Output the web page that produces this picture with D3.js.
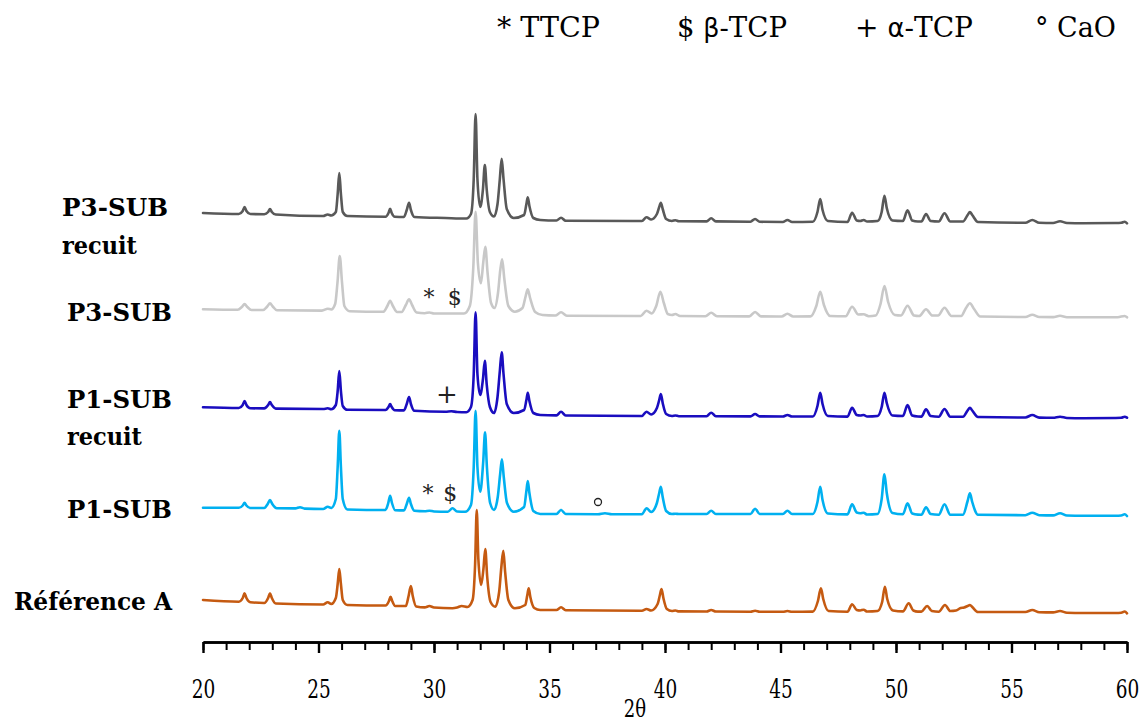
<!DOCTYPE html>
<html><head><meta charset="utf-8">
<script src="https://cdn.jsdelivr.net/npm/d3@7"></script>
<style>body{margin:0;background:#fff}svg{display:block}</style>
</head><body><svg id="c" width="1142" height="724"></svg>
<script>
// ---- data (2θ, intensity a.u.) ----
const seriesNames = ["Référence A", "P1-SUB", "P1-SUB recuit", "P3-SUB", "P3-SUB recuit"];
const seriesOffsets = [28, 125, 223, 324, 418];
const seriesColors = ["#c55a11", "#00b0f0", "#1a0dbf", "#c8c8c8", "#595959"];

const refA = [[20,14],[21.55,12.3],[21.72,16],[21.8,20.7],[21.88,16],[22.05,11.8],
[22.65,11],[22.82,16],[22.9,20.7],[22.98,16],[23.15,10.5],
[25.2,9.5],[25.4,11.7],[25.55,10],[25.75,16],[25.83,30],[25.9,45],[25.97,30],[26.05,14],[26.25,9],
[27.9,8.5],[28.05,13],[28.12,17.3],[28.19,13],[28.32,8],
[28.78,8],[28.9,18],[29.0,28],[29.08,18],[29.23,7.5],
[29.6,6.6],[29.8,8],[30.0,6.5],[30.8,5.8],[31.0,6.5],[31.2,8],[31.45,7],[31.67,14],[31.78,50],[31.85,104],[31.92,55],[32.04,29],[32.14,45],[32.22,65],[32.3,38],[32.45,12],[32.65,7.3],[32.82,22],[32.92,48],[33.0,63.3],[33.08,42],[33.22,14],[33.5,5.7],[33.95,9],[34.04,19],[34.1,25.7],[34.17,17],[34.34,6],[34.6,4],
[35.3,4],[35.5,6.7],[35.7,3.8],
[39.0,3.3],[39.2,5],[39.4,3.5],[39.68,10],[39.78,19],[39.85,25],[39.93,16],[40.08,5],[40.3,3],[40.45,3.5],[40.6,2.6],
[41.8,2.5],[42.0,4],[42.2,2.5],
[43.7,2.3],[43.9,3.3],[44.1,2.3],
[45.1,2.2],[45.3,3],[45.5,2.2],
[46.4,2.4],[46.62,13],[46.75,25.7],[46.85,15],[47.08,3],
[47.9,2.3],[48.1,9.7],[48.3,4],[48.45,3.5],[48.6,4.3],[48.75,2.5],
[49.2,3],[49.4,12],[49.52,27.3],[49.62,15],[49.87,3.5],
[50.3,2.6],[50.55,10.7],[50.75,3.5],[50.95,2.4],
[51.1,2.4],[51.35,8],[51.55,3],[51.85,2.3],[52.12,9],[52.35,3],
[52.6,3.5],[52.8,6],[52.95,6.5],[53.1,8],[53.2,9],[53.3,7],[53.55,2],
[55.6,2],[55.9,4],[56.2,1.8],
[56.8,1.6],[57.1,3],[57.4,1.3],
[58.1,1],[59.5,1],[59.75,1.2],[59.9,2.5],[60,0.7]];

const p1Sub = [[20,9.3],[21.55,9.2],[21.72,11.5],[21.8,14.3],[21.88,11.5],[22.05,9],
[22.65,9],[22.8,13],[22.9,17],[23.0,13],[23.2,8.7],
[24.0,8.6],[24.2,9.8],[24.4,8.4],
[25.2,8],[25.4,10.3],[25.55,9],[25.75,18],[25.83,50],[25.9,86.3],[25.97,50],[26.05,18],[26.25,7.5],
[27.9,7],[28.02,14],[28.1,21.3],[28.18,14],[28.32,6.8],
[28.7,6.6],[28.82,13],[28.92,19.3],[29.0,13],[29.15,6.2],
[29.6,5.7],[29.8,6.3],[30.0,5.5],[30.6,5.3],[30.8,8.7],[31.0,5.5],[31.35,5.2],[31.6,12],[31.72,50],[31.8,106.3],[31.88,50],[32.0,25.3],[32.13,55],[32.21,84.7],[32.29,50],[32.43,14],[32.6,7],[32.76,20],[32.86,42],[32.94,57.7],[33.02,40],[33.16,14],[33.45,5.3],[33.9,10],[34.0,26],[34.06,36],[34.13,24],[34.3,6],[34.6,3],
[35.3,3],[35.5,7],[35.7,3],
[37.1,2.7],[37.4,3.7],[37.7,2.7],
[39.0,2.8],[39.2,8.7],[39.4,5],[39.65,14],[39.75,24],[39.82,30.3],[39.9,20],[40.05,6],[40.3,3],[40.45,3.3],[40.6,3],
[41.8,3],[42.0,6.3],[42.2,3],
[43.7,3],[43.9,8.3],[44.1,3],
[45.1,3],[45.3,6.3],[45.5,3],
[46.4,3],[46.6,15],[46.72,30.3],[46.82,17],[47.05,3.5],
[47.9,2.6],[48.1,12.7],[48.3,4.5],[48.45,3.8],[48.6,4.3],[48.75,2.5],
[49.2,3],[49.38,18],[49.5,42.7],[49.6,24],[49.85,4],
[50.3,2.8],[50.5,13.7],[50.7,3.5],[50.95,2.4],
[51.1,2.3],[51.3,9.7],[51.5,3],[51.85,2.3],[52.1,12.7],[52.35,2.3],
[52.9,2.3],[53.1,16],[53.2,23.7],[53.3,15],[53.55,2.2],
[55.6,1.8],[55.9,4.3],[56.2,1.8],
[56.8,1.6],[57.1,3.7],[57.4,1.5],
[58.1,1.3],[59.5,1.3],[59.75,1.5],[59.9,2.7],[60,1]];

const p1Recuit = [[20,11.7],[21.55,11],[21.72,14],[21.8,18],[21.88,14],[22.05,10.8],
[22.65,10.6],[22.82,14],[22.9,17],[22.98,14],[23.15,10.4],
[25.2,10],[25.4,10.7],[25.55,9.8],[25.75,14],[25.83,28],[25.9,48],[25.97,28],[26.05,13],[26.25,9.2],
[27.9,9],[28.03,12],[28.1,15],[28.17,12],[28.3,8.8],
[28.7,8.6],[28.82,15],[28.92,22],[29.0,15],[29.15,8.2],
[30.5,7.3],[30.75,7.8],[31.0,7],[31.4,6.8],[31.6,12],[31.72,45],[31.8,106.7],[31.88,45],[32.0,24],[32.12,40],[32.2,58.3],[32.28,35],[32.42,12],[32.6,6],[32.75,22],[32.85,48],[32.93,66.7],[33.01,45],[33.15,15],[33.45,6],[33.9,9],[34.0,19],[34.06,26.3],[34.13,18],[34.3,6],[34.6,4],
[35.3,3.6],[35.5,7.3],[35.7,3.5],
[39.0,3],[39.2,7.3],[39.4,4.5],[39.65,11],[39.75,19],[39.82,25],[39.9,16],[40.05,5],[40.3,3],[40.45,3.5],[40.6,2.8],
[41.8,2.8],[42.0,6.3],[42.2,2.8],
[43.7,2.6],[43.9,5],[44.1,2.6],
[45.1,2.5],[45.3,4],[45.5,2.5],
[46.4,2.5],[46.6,13],[46.72,26.3],[46.82,15],[47.05,3],
[47.9,2.4],[48.1,11.3],[48.3,4],[48.45,3.5],[48.6,4],[48.75,2.5],
[49.2,3],[49.38,12],[49.5,26.3],[49.6,16],[49.85,3.5],
[50.3,3],[50.5,14],[50.7,3.5],[50.95,2.5],
[51.1,2.4],[51.3,9.7],[51.5,3],[51.85,2.3],[52.1,10],[52.35,2.3],
[52.9,2.2],[53.1,8.5],[53.2,11.3],[53.3,8.5],[53.55,2],
[55.6,1.5],[55.9,4],[56.2,1.4],
[56.8,1.2],[57.1,2.3],[57.4,1],
[58.1,0.7],[59.5,1],[59.75,1.2],[59.9,2.3],[60,1.3]];

const p3Sub = [[20,8.7],[21.5,8.2],[21.68,11],[21.8,14],[21.92,11],[22.1,8],
[22.6,8],[22.78,11.5],[22.9,14.7],[23.02,11.5],[23.2,7.8],
[25.15,7.4],[25.4,9.3],[25.55,8.5],[25.72,14],[25.82,35],[25.92,62],[26.02,35],[26.12,12],[26.35,6.8],
[27.8,6.2],[27.98,12],[28.1,17.3],[28.22,12],[28.4,6],
[28.6,6],[28.78,13],[28.92,18.7],[29.05,13],[29.25,5.5],
[29.6,4.8],[29.8,5.5],[30.0,4.5],[31.3,4.5],[31.55,12],[31.7,50],[31.8,106.3],[31.9,55],[32.03,34.7],[32.13,55],[32.22,71.3],[32.32,45],[32.47,15],[32.62,10],[32.77,25],[32.87,48],[32.95,58.7],[33.04,40],[33.22,12],[33.5,6.3],[33.83,10],[33.97,22],[34.06,28.7],[34.16,20],[34.38,6],[34.7,3],
[35.25,2.5],[35.5,5.7],[35.75,2.3],
[38.95,2],[39.2,7.3],[39.42,4.5],[39.62,12],[39.8,26.3],[39.95,15],[40.12,4],[40.3,3],[40.45,4],[40.65,2],
[41.75,1.8],[42.0,5.3],[42.25,1.8],
[43.65,1.6],[43.9,6],[44.15,1.6],
[45.05,1.5],[45.3,4.3],[45.55,1.5],
[46.3,1.6],[46.55,12],[46.72,26.3],[46.88,13],[47.15,2],
[47.82,1.8],[48.1,11.3],[48.37,3.5],[48.6,3.7],[48.82,1.8],
[49.12,2.5],[49.33,14],[49.5,32],[49.66,16],[49.95,3],
[50.22,2.5],[50.5,12.3],[50.78,2.5],[51.0,2],
[51.3,8.7],[51.58,2.5],[51.82,2.5],[52.1,10.3],[52.4,2],
[52.82,2],[53.03,10],[53.2,14.7],[53.38,9],[53.65,1.5],
[55.6,1],[55.9,3.3],[56.2,1],
[56.8,0.9],[57.1,2.3],[57.4,0.8],
[58.1,0.7],[59.6,0.8],[59.9,2],[60,0.7]];

const p3Recuit = [[20,11],[21.55,10],[21.72,13],[21.8,17],[21.88,13],[22.05,10],
[22.65,9.8],[22.82,12],[22.9,15],[22.98,12],[23.15,9.5],
[25.2,8],[25.4,9.5],[25.55,8.5],[25.75,12],[25.83,30],[25.9,51],[25.97,30],[26.05,12],[26.25,8],
[27.9,7.3],[28.03,11],[28.1,15.3],[28.17,11],[28.3,7.2],
[28.7,7],[28.82,14],[28.92,21.3],[29.0,14],[29.15,7],
[30.5,6],[31.4,5.5],[31.6,10],[31.72,45],[31.8,110],[31.88,45],[32.0,17],[32.12,35],[32.2,59],[32.28,35],[32.42,12],[32.6,7.5],[32.75,20],[32.85,45],[32.93,65.3],[33.01,45],[33.15,15],[33.45,6],[33.9,9],[34.0,20],[34.06,26.7],[34.13,18],[34.3,6],[34.6,4],
[35.3,3.5],[35.5,6.3],[35.7,3.2],
[39.0,3],[39.2,6.7],[39.4,4.5],[39.65,10],[39.75,17],[39.82,21.3],[39.9,15],[40.05,5],[40.3,3],[40.45,3.8],[40.6,2.8],
[41.8,2.6],[42.0,5.7],[42.2,2.6],
[43.7,2.3],[43.9,5],[44.1,2.2],
[45.1,2],[45.3,4],[45.5,2],
[46.4,2.2],[46.6,12],[46.72,25],[46.82,14],[47.05,3],
[47.9,2],[48.1,11.3],[48.3,3.5],[48.45,3],[48.6,4],[48.75,2.5],
[49.2,3],[49.38,12],[49.5,28.3],[49.6,16],[49.85,3.5],
[50.3,3],[50.5,13.7],[50.7,3.5],[50.95,2.5],
[51.1,2.5],[51.3,10],[51.5,3],[51.85,2.5],[52.1,10.7],[52.35,2.5],
[52.9,2.5],[53.1,9],[53.2,12],[53.3,9],[53.55,2],
[55.6,1.2],[55.9,4],[56.2,1.2],
[56.8,1],[57.1,2.7],[57.4,1],
[58.1,0.8],[59.5,1],[59.75,1.2],[59.9,2.3],[60,0.7]];

const seriesData = [refA, p1Sub, p1Recuit, p3Sub, p3Recuit];

const xMajorTicks = [20, 25, 30, 35, 40, 45, 50, 55, 60];
const xMinorTicks = d3.range(20, 61, 1);
const xLabel = "2θ";

const legendSymbols = ["*", "$", "+", "°"];
const legendGreek = ["", "β", "α", ""];
const legendNames = ["TTCP", "-TCP", "-TCP", "CaO"];

// annotations: [2θ, series index, intensity level, symbol]
const annotations = [
  [29.78, 3, 21, "*"], [30.9, 3, 21, "$"],
  [30.56, 2, 25, "+"],
  [29.74, 1, 24, "*"], [30.7, 1, 24, "$"]
];
const caoMarks = [[37.1, 1, 15]];

// ---- drawing ----
const SERIF = "'DejaVu Serif', serif";
const svg = d3.select("#c");
svg.append("rect").attr("width", 1142).attr("height", 724).attr("fill", "#fff");

const x = d3.scaleLinear().domain([20, 60]).range([203, 1127]);
const y = d3.scaleLinear().domain([0, 600]).range([642, 42]);

const line = d3.line().curve(d3.curveMonotoneX);

seriesData.forEach((d, i) => {
  svg.append("path")
    .attr("d", line.x(p => x(p[0])).y(p => y(p[1] + seriesOffsets[i]))(d))
    .attr("fill", "none")
    .attr("stroke", seriesColors[i])
    .attr("stroke-width", 2.6)
    .attr("stroke-linejoin", "round")
    .attr("stroke-linecap", "round");
});

// axis
const axisG = svg.append("g").attr("transform", "translate(0,642)");
axisG.call(d3.axisBottom(x).tickValues(xMinorTicks).tickSize(8).tickSizeOuter(0).tickFormat(""));
axisG.selectAll(".tick line").attr("stroke-width", 2).attr("stroke", "#000");
const axisG2 = svg.append("g").attr("transform", "translate(0,642)");
axisG2.call(d3.axisBottom(x).tickValues(xMajorTicks).tickSize(11).tickSizeOuter(0).tickFormat(d3.format("d")));
axisG2.selectAll(".tick line").attr("stroke-width", 2.4).attr("stroke", "#000");
axisG2.selectAll(".tick text")
  .attr("font-family", SERIF).attr("font-size", 18.5).attr("fill", "#000")
  .attr("y", 0).attr("dy", 0)
  .attr("transform", "translate(0,56) scale(1,1.45)");
svg.selectAll(".domain").attr("stroke", "#000").attr("stroke-width", 2.6);

svg.append("text").attr("transform", "translate(635,717) scale(1,1.3)")
  .attr("text-anchor", "middle").attr("font-family", SERIF).attr("font-size", 18)
  .text(xLabel);

// series labels
const labelFont = "'DejaVu Serif', serif";
const labelLayout = [
  {lines: ["Référence A"], x: 172, anchor: "end", y: [610], w: [158]},
  {lines: ["P1-SUB"], x: 172, anchor: "end", y: [518], w: [105]},
  {lines: ["P1-SUB", "recuit"], x: 67, anchor: "start", y: [408, 445], w: [105, 75]},
  {lines: ["P3-SUB"], x: 172, anchor: "end", y: [321], w: [105]},
  {lines: ["P3-SUB", "recuit"], x: 62, anchor: "start", y: [216, 254], w: [106, 75]}
];
labelLayout.forEach(l => {
  l.lines.forEach((t, j) => {
    svg.append("text").attr("x", l.x).attr("y", l.y[j])
      .attr("text-anchor", l.anchor)
      .attr("font-family", labelFont).attr("font-weight", "bold").attr("font-size", 25)
      .attr("textLength", l.w[j]).attr("lengthAdjust", "spacingAndGlyphs")
      .attr("fill", "#000").text(t);
  });
});

// legend
const legendX = [497, 677, 855, 1035];
const legendW = [103, 110, 118, 81];
legendSymbols.forEach((s, i) => {
  const t = svg.append("text").attr("transform", `translate(${legendX[i]},37) scale(1,1.15)`)
    .attr("font-family", SERIF).attr("font-size", 25).attr("fill", "#000")
    .attr("textLength", legendW[i]).attr("lengthAdjust", "spacingAndGlyphs");
  t.append("tspan").text(s + " ");
  if (legendGreek[i]) t.append("tspan").attr("font-family", "'DejaVu Sans', sans-serif").attr("font-size", 23).text(legendGreek[i]);
  t.append("tspan").text(legendNames[i]);
});

// annotations
annotations.forEach(a => {
  svg.append("text").attr("x", x(a[0])).attr("y", y(a[2] + seriesOffsets[a[1]]))
    .attr("text-anchor", "middle").attr("dominant-baseline", "central")
    .attr("font-family", SERIF).attr("font-size", a[3] === "+" ? 26 : 22)
    .attr("fill", "#222").text(a[3]);
});
caoMarks.forEach(a => {
  svg.append("circle").attr("cx", x(a[0])).attr("cy", y(a[2] + seriesOffsets[a[1]]))
    .attr("r", 3.5).attr("fill", "none").attr("stroke", "#222").attr("stroke-width", 1.3);
});
</script>
</body></html>
